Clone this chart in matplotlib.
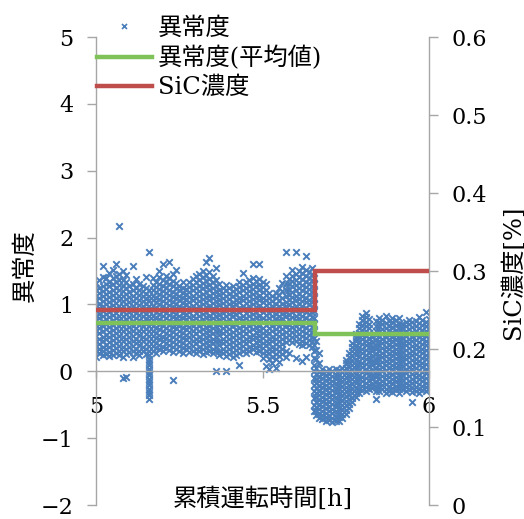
import matplotlib
matplotlib.use('Agg')
import matplotlib.pyplot as plt
import numpy as np
from matplotlib.lines import Line2D

# ---------------- data (anomaly values in hundredths, one list per sampling column) ----------------
# Block A: 5.00 - 5.15 h
t_a = [5.00, 5.01, 5.02, 5.03, 5.04, 5.05, 5.06, 5.07, 5.08, 5.09, 5.10, 5.11, 5.12, 5.13, 5.14, 5.15]
y_a = [
    [22, 31, 38, 46, 53, 61, 68, 76, 83, 91, 98, 106, 113, 121, 132],
    [27, 34, 41, 49, 57, 64, 71, 79, 86, 94, 101, 109, 117, 124, 136],
    [24, 30, 37, 45, 52, 60, 67, 75, 82, 90, 97, 105, 112, 120, 128, 141, 157],
    [26, 33, 40, 48, 55, 63, 70, 78, 85, 93, 100, 108, 115, 123, 131, 140],
    [23, 29, 36, 44, 51, 59, 66, 74, 81, 89, 96, 104, 111, 119, 127, 134, 147],
    [25, 32, 39, 47, 54, 62, 69, 77, 84, 92, 99, 107, 114, 122, 130, 139, 152],
    [28, 35, 42, 50, 57, 65, 72, 80, 87, 95, 102, 110, 117, 125, 133, 142, 161],
    [24, 31, 38, 46, 53, 61, 68, 76, 83, 91, 98, 106, 113, 121, 129, 137, 146, 217],
    [-10, 22, 30, 37, 45, 52, 60, 67, 75, 82, 90, 97, 105, 112, 120, 128, 136, 150],
    [-8, 26, 33, 41, 48, 56, 63, 71, 78, 86, 93, 101, 108, 116, 124, 133, 144],
    [29, 36, 44, 51, 59, 66, 74, 81, 89, 96, 104, 111, 119, 127],
    [21, 30, 38, 45, 53, 60, 68, 75, 83, 90, 98, 105, 113, 121, 131, 157],
    [27, 34, 42, 49, 57, 64, 72, 79, 87, 94, 102, 109, 117, 124, 138],
    [24, 31, 39, 46, 54, 61, 69, 76, 84, 91, 99, 106, 114, 122, 130],
    [30, 37, 45, 52, 60, 67, 75, 82, 90, 97, 105, 112, 120, 128],
    [26, 33, 41, 48, 56, 63, 71, 78, 86, 93, 101, 108, 116, 124, 141],
]
# Block B: 5.16 - 5.32 h (5.16 holds the downward spike)
t_b = [5.16, 5.17, 5.18, 5.19, 5.20, 5.21, 5.22, 5.23, 5.24, 5.25, 5.26, 5.27, 5.28, 5.29, 5.30, 5.31, 5.32]
y_b = [
    [-41, -36, -31, -26, -21, -16, -11, -6, -1, 4, 9, 14, 19, 24, 31, 38, 46, 53, 61, 68, 76, 83, 91, 98, 106, 113, 121, 178],
    [31, 38, 46, 53, 61, 68, 76, 83, 91, 98, 106, 113, 121, 129, 139],
    [28, 35, 43, 50, 58, 65, 73, 80, 88, 95, 103, 110, 118, 126, 134],
    [33, 40, 48, 55, 63, 70, 78, 85, 93, 100, 108, 115, 123, 131, 141, 150],
    [30, 37, 45, 52, 60, 67, 75, 82, 90, 97, 105, 112, 120, 128, 136, 160],
    [35, 42, 50, 57, 65, 72, 80, 87, 95, 102, 110, 117, 125, 133, 142],
    [32, 39, 47, 54, 62, 69, 77, 84, 92, 99, 107, 114, 122, 130, 139, 164],
    [-13, 29, 36, 44, 51, 59, 66, 74, 81, 89, 96, 104, 111, 119, 127, 135, 146],
    [34, 41, 49, 56, 64, 71, 79, 86, 94, 101, 109, 116, 124, 132, 152],
    [31, 38, 46, 53, 61, 68, 76, 83, 91, 98, 106, 113, 121, 128],
    [27, 35, 42, 50, 57, 65, 72, 80, 87, 95, 102, 110, 117, 125, 133],
    [33, 40, 48, 55, 63, 70, 78, 85, 93, 100, 108, 115, 123],
    [29, 36, 44, 51, 59, 66, 74, 81, 89, 96, 104, 111, 119, 126, 134],
    [31, 38, 46, 53, 61, 68, 76, 83, 91, 98, 106, 113, 121, 129, 138],
    [27, 34, 42, 49, 57, 64, 72, 79, 87, 94, 102, 109, 117, 125, 133, 142],
    [30, 37, 45, 52, 60, 67, 75, 82, 90, 97, 105, 112, 120, 128, 137, 146],
    [26, 33, 41, 48, 56, 63, 71, 78, 86, 93, 101, 108, 116, 124, 132, 141, 150],
]
# Block C: 5.33 - 5.49 h
t_c = [5.33, 5.34, 5.35, 5.36, 5.37, 5.38, 5.39, 5.40, 5.41, 5.42, 5.43, 5.44, 5.45, 5.46, 5.47, 5.48, 5.49]
y_c = [
    [29, 36, 44, 51, 59, 66, 74, 81, 89, 96, 104, 111, 119, 127, 135, 144, 163],
    [31, 38, 46, 53, 61, 68, 76, 83, 91, 98, 106, 113, 121, 129, 138, 148, 169],
    [27, 34, 42, 49, 57, 64, 72, 79, 87, 94, 102, 109, 117, 125, 134, 143],
    [0, 30, 37, 45, 52, 60, 67, 75, 82, 90, 97, 105, 112, 120, 128, 136, 154],
    [24, 31, 39, 46, 54, 61, 69, 76, 84, 91, 99, 106, 114, 122, 131],
    [27, 34, 42, 49, 57, 64, 72, 79, 87, 94, 102, 109, 117, 125],
    [1, 23, 30, 38, 45, 53, 60, 68, 75, 83, 90, 98, 105, 113, 121, 129],
    [26, 33, 41, 48, 56, 63, 71, 78, 86, 93, 101, 108, 116, 124],
    [22, 29, 37, 44, 52, 59, 67, 74, 82, 89, 97, 104, 112, 120, 128],
    [25, 32, 40, 47, 55, 62, 70, 77, 85, 92, 100, 107, 115, 123],
    [10, 28, 35, 43, 50, 58, 65, 73, 80, 88, 95, 103, 110, 118, 126, 134],
    [31, 38, 46, 53, 61, 68, 76, 83, 91, 98, 106, 113, 121, 129, 147],
    [27, 34, 42, 49, 57, 64, 72, 79, 87, 94, 102, 109, 117, 125, 133],
    [30, 37, 45, 52, 60, 67, 75, 82, 90, 97, 105, 112, 120, 128, 137],
    [33, 40, 48, 55, 63, 70, 78, 85, 93, 100, 108, 115, 123, 131, 140, 160],
    [29, 36, 44, 51, 59, 66, 74, 81, 89, 96, 104, 111, 119, 127, 135],
    [31, 38, 46, 53, 61, 68, 76, 83, 91, 98, 106, 113, 121, 129, 138, 160],
]
# Block D: 5.50 - 5.65 h
t_d = [5.50, 5.51, 5.52, 5.53, 5.54, 5.55, 5.56, 5.57, 5.58, 5.59, 5.60, 5.61, 5.62, 5.63, 5.64, 5.65]
y_d = [
    [20, 28, 35, 43, 50, 58, 65, 73, 80, 88, 95, 103, 110, 118, 126, 134],
    [8, 24, 31, 39, 46, 54, 61, 69, 76, 84, 91, 99, 106, 114, 122, 131],
    [3, 18, 27, 34, 42, 49, 57, 64, 72, 79, 87, 94, 102, 109, 117],
    [12, 22, 30, 37, 45, 52, 60, 67, 75, 82, 90, 97, 105, 113],
    [5, 19, 26, 33, 41, 48, 56, 63, 71, 78, 86, 93, 101, 109, 117],
    [14, 23, 31, 38, 46, 53, 61, 68, 76, 83, 91, 98, 106, 114, 124],
    [26, 33, 41, 48, 56, 63, 71, 78, 86, 93, 101, 110, 120, 132],
    [22, 30, 44, 52, 59, 67, 74, 82, 89, 97, 104, 112, 121, 131, 142, 178],
    [28, 47, 54, 62, 69, 77, 84, 92, 99, 107, 114, 122, 130, 138],
    [44, 51, 59, 66, 74, 81, 89, 96, 104, 111, 119, 127, 135, 143, 152],
    [20, 46, 53, 61, 68, 76, 83, 91, 98, 106, 113, 121, 129, 137, 146, 178],
    [41, 48, 56, 63, 71, 78, 86, 93, 101, 108, 116, 124, 132, 141, 150],
    [16, 39, 45, 53, 60, 68, 75, 83, 90, 98, 105, 113, 121, 129, 138, 147, 156],
    [22, 43, 50, 58, 65, 73, 80, 88, 95, 103, 110, 118, 126, 134, 143, 152, 172],
    [40, 47, 55, 62, 70, 77, 85, 92, 100, 107, 115, 123, 131, 140, 149],
    [36, 44, 51, 59, 66, 74, 81, 89, 96, 104, 111, 119, 127, 136, 145, 154],
]
# Block E: 5.655 - 5.83 h (after the SiC change)
t_e = [5.655, 5.66, 5.67, 5.68, 5.69, 5.70, 5.71, 5.72, 5.73, 5.74, 5.75, 5.76, 5.77, 5.78, 5.79, 5.80, 5.81, 5.82, 5.83]
y_e = [
    [-60, -50, -40, -30, -20, -10, 0, 10, 20, 30, 40, 50, 60, 70, 80, 90, 100, 110, 120, 130, 140],
    [-66, -60, -53, -46, -39, -32, -25, -18, -11, -4, 5, 18, 32, 45],
    [-70, -64, -57, -50, -43, -36, -29, -22, -15, -8, -1, 12, 28],
    [-72, -66, -59, -52, -45, -38, -31, -24, -17, -10, -3, 3],
    [-75, -69, -62, -55, -48, -41, -34, -27, -20, -13, -6, 1],
    [-73, -67, -60, -53, -46, -39, -32, -25, -18, -11, -4, 4],
    [-76, -70, -63, -56, -49, -42, -35, -28, -21, -14, -7, 0],
    [-74, -68, -61, -54, -47, -40, -33, -26, -19, -12, -5, 3],
    [-75, -69, -62, -55, -48, -41, -34, -27, -20, -13, -6, 2],
    [-70, -64, -57, -50, -43, -36, -29, -22, -15, -8, -1, 5],
    [-64, -58, -51, -44, -37, -30, -23, -16, -9, -2, 5, 12, 17],
    [-55, -49, -42, -35, -28, -21, -14, -7, 0, 7, 14, 21, 28],
    [-46, -40, -33, -26, -19, -12, -5, 2, 9, 16, 23, 30, 37, 43],
    [-38, -32, -25, -18, -11, -4, 3, 10, 17, 24, 31, 38, 45, 52, 56],
    [-32, -26, -19, -12, -5, 2, 9, 16, 23, 30, 37, 44, 51, 58, 65, 70],
    [-28, -22, -15, -8, -1, 6, 13, 20, 27, 34, 41, 48, 55, 62, 69, 76, 83],
    [-30, -24, -17, -10, -3, 4, 11, 18, 25, 32, 39, 46, 53, 60, 67, 74, 81, 87],
    [-26, -20, -13, -6, 1, 8, 15, 22, 29, 36, 43, 50, 57, 64, 71, 78],
    [-25, -19, -12, -5, 2, 9, 16, 23, 30, 37, 44, 51],
]
# Block F: 5.84 - 6.00 h
t_f = [5.84, 5.85, 5.86, 5.87, 5.88, 5.89, 5.90, 5.91, 5.92, 5.93, 5.94, 5.95, 5.96, 5.97, 5.98, 5.99, 6.00]
y_f = [
    [-42, -30, -23, -16, -9, -2, 5, 12, 19, 26, 33, 40, 47, 54, 61, 68, 75],
    [-30, -24, -17, -10, -3, 4, 11, 18, 25, 32, 39, 46, 53, 60, 67, 74, 80],
    [-27, -21, -14, -7, 0, 7, 14, 21, 28, 35, 42, 49, 56, 63, 70, 76],
    [-32, -26, -19, -12, -5, 2, 9, 16, 23, 30, 37, 44, 51, 58, 65, 72, 82],
    [-29, -23, -16, -9, -2, 5, 12, 19, 26, 33, 40, 47, 54, 61, 68, 75],
    [-31, -25, -18, -11, -4, 3, 10, 17, 24, 31, 38, 45, 52, 59, 66, 73, 79],
    [-28, -22, -15, -8, -1, 6, 13, 20, 27, 34, 41, 48, 55, 62, 69, 76],
    [-33, -27, -20, -13, -6, 1, 8, 15, 22, 29, 36, 43, 50, 57, 64, 71, 80],
    [-26, -20, -13, -6, 1, 8, 15, 22, 29, 36, 43, 50, 57, 64, 71],
    [-30, -24, -17, -10, -3, 4, 11, 18, 25, 32, 39, 46, 53, 60, 67, 74],
    [-27, -21, -14, -7, 0, 7, 14, 21, 28, 35, 42, 49, 56, 63, 70, 77],
    [-46, -31, -25, -18, -11, -4, 3, 10, 17, 24, 31, 38, 45, 52, 59, 66, 73],
    [-29, -23, -16, -9, -2, 5, 12, 19, 26, 33, 40, 47, 54, 61, 68, 75],
    [-32, -26, -19, -12, -5, 2, 9, 16, 23, 30, 37, 44, 51, 58, 65, 72, 81],
    [-28, -22, -15, -8, -1, 6, 13, 20, 27, 34, 41, 48, 55, 62, 69, 76],
    [-30, -24, -17, -10, -3, 4, 11, 18, 25, 32, 39, 46, 53, 60, 67, 74, 88],
    [-27, -21, -14, -7, 0, 7, 14, 21, 28, 35, 42, 49, 56, 63, 70, 78],
]

# mean anomaly (step) and SiC concentration (step)
mean_edges = [5.0, 5.658, 6.0]
mean_vals = [0.72, 0.565]
sic_edges = [5.0, 5.658, 6.0]
sic_vals = [0.25, 0.30]

labels = ['異常度', '異常度(平均値)', 'SiC濃度']
x_ticks = [5, 5.5, 6]
x_ticklabels = ['5', '5.5', '6']
y_ticks = [-2, -1, 0, 1, 2, 3, 4, 5]
y2_ticks = [0, 0.1, 0.2, 0.3, 0.4, 0.5, 0.6]
y2_ticklabels = ['0', '0.1', '0.2', '0.3', '0.4', '0.5', '0.6']

# ---------------- style ----------------
plt.rcParams['font.family'] = ['DejaVu Serif', 'Noto Sans CJK JP']
BLUE = '#4A7EBB'
GREEN = '#80C25A'
RED = '#BE4D4B'
GRAY = '#A6A6A6'

xs, ys = [], []
for tl, yl in [(t_a, y_a), (t_b, y_b), (t_c, y_c), (t_d, y_d), (t_e, y_e), (t_f, y_f)]:
    for t, col in zip(tl, yl):
        xs.extend([t] * len(col))
        ys.extend(v / 100.0 for v in col)
xs = np.array(xs)
ys = np.array(ys)

fig = plt.figure(figsize=(5.24, 5.19), dpi=100)
ax = fig.add_axes([96 / 524, 1 - 505 / 519, (429 - 96) / 524, (505 - 37) / 519])
ax2 = ax.twinx()

ax.scatter(xs, ys, marker='x', s=22, linewidths=1.4, color=BLUE, zorder=2)
ax.stairs(mean_vals, mean_edges, baseline=None, color=GREEN, linewidth=3.2, zorder=3)
ax2.stairs(sic_vals, sic_edges, baseline=None, color=RED, linewidth=3.2, zorder=3)

ax.set_xlim(5, 6)
ax.set_ylim(-2, 5)
ax2.set_ylim(0, 0.6)
ax.set_xticks(x_ticks)
ax.set_xticklabels(x_ticklabels)
ax.set_yticks(y_ticks)
ax2.set_yticks(y2_ticks)
ax2.set_yticklabels(y2_ticklabels)

for a in (ax, ax2):
    for s in a.spines.values():
        s.set_color(GRAY)
        s.set_linewidth(1.0)
ax.spines['top'].set_visible(False)
ax.spines['right'].set_visible(False)
ax.spines['bottom'].set_position(('data', 0))
ax2.spines['top'].set_visible(False)
ax2.spines['left'].set_visible(False)
ax2.spines['bottom'].set_visible(False)

ax.tick_params(axis='y', direction='out', length=6.5, width=1, color=GRAY, pad=10, labelsize=16)
ax.tick_params(axis='x', direction='out', length=5, width=1, color=GRAY, pad=13, labelsize=16)
ax2.tick_params(axis='y', direction='out', length=6.5, width=1, color=GRAY, pad=10, labelsize=16)

ax.text(0.5, 0.012, '累積運転時間[h]', transform=ax.transAxes, ha='center', va='center', fontsize=17.5)
fig.text(25 / 524, 1 - 266 / 519, '異常度', rotation=90, ha='center', va='center', fontsize=17.5)
fig.text(513 / 524, 1 - 272 / 519, 'SiC濃度[%]', rotation=90, ha='center', va='center', fontsize=17.5)

handles = [
    Line2D([], [], ls='', marker='x', ms=3.6, mew=1.2, color=BLUE),
    Line2D([], [], color=GREEN, lw=3.2),
    Line2D([], [], color=RED, lw=3.2),
]
fig.legend(handles, labels, loc='upper left', bbox_to_anchor=(97 / 524, 1 - 17 / 519),
           frameon=False, borderpad=0, borderaxespad=0, handlelength=2.25,
           handletextpad=0.25, labelspacing=0.25, fontsize=17.5)

fig.savefig('out.png', dpi=100)
